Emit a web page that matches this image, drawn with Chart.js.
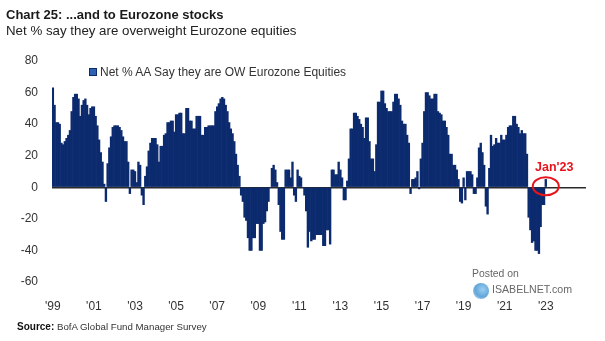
<!DOCTYPE html>
<html>
<head>
<meta charset="utf-8">
<script src="https://cdn.jsdelivr.net/npm/chart.js@4.4.0/dist/chart.umd.min.js"></script>
<style>
  html, body { margin: 0; padding: 0; background: #fff; }
  #wrap { position: relative; width: 605px; height: 341px; overflow: hidden;
          font-family: "Liberation Sans", Arial, sans-serif; color: #222; }
  #c { position: absolute; left: 0; top: 0; }
  .t { position: absolute; white-space: nowrap; line-height: 1; }
  #title { left: 6px; top: 8px; font-size: 13px; font-weight: bold; color: #1a1a1a; }
  #subtitle { left: 6px; top: 24px; font-size: 13.3px; color: #222; }
  #legend { left: 89px; top: 66px; font-size: 12px; color: #333; }
  #legend .box { position: absolute; left: 0; top: 2px; width: 6px; height: 6px;
                 background: #2f63b0; border: 1px solid #0c2a6c; }
  #legend span.lbl { margin-left: 11px; }
  #source { left: 17px; top: 322px; font-size: 9.7px; color: #333; }
  #source b { font-size: 10px; color: #111; }
  #posted { left: 472px; top: 269px; font-size: 10.4px; color: #666; }
  #isabel { left: 492px; top: 284px; font-size: 10.6px; color: #666; }
  #globe { position: absolute; left: 473px; top: 283px; width: 16px; height: 16px; border-radius: 50%;
           background: radial-gradient(circle at 60% 40%, #7fc4ef 0%, #3b8fd0 55%, rgba(200,215,230,0.6) 100%); opacity: 0.8; }
</style>
</head>
<body>
<div id="wrap">
  <canvas id="c" width="605" height="341"></canvas>
  <div class="t" id="title">Chart 25: ...and to Eurozone stocks</div>
  <div class="t" id="subtitle">Net % say they are overweight Eurozone equities</div>
  <div class="t" id="legend"><span class="box"></span><span class="lbl">Net % AA Say they are OW Eurozone Equities</span></div>
  <div class="t" id="source"><b>Source:</b> BofA Global Fund Manager Survey</div>
  <div id="globe"></div>
  <div class="t" id="posted">Posted on</div>
  <div class="t" id="isabel">ISABELNET.com</div>
</div>
<script>
// Monthly survey readings, Jan 1999 .. Jan 2023 (net % overweight Eurozone equities)
const netOW1999_2002 = [63, 52, 41, 41, 40, 28, 27, 29, 31, 33, 36, 48,
                        57, 59, 59, 56, 45, 52, 55, 56, 52, 46, 50, 51,
                        51, 45, 39, 30, 22, 16, 2, -9, 15, 25, 32, 38,
                        39, 39, 39, 38, 36, 32, 29, 29];
const netOW2002_2007 = [16, -4, 11, 11, 10, 3, 16, 14, -5, -11, 7, 13,
                        23, 28, 31, 31, 31, 27, 16, 26, 26, 33, 34, 41,
                        41, 42, 42, 35, 46, 46, 47, 47, 34, 34, 50, 50,
                        42, 42, 37, 37, 45, 45, 45, 33, 33, 38, 38, 39,
                        39, 39, 39, 48, 51, 53, 56, 57, 56];
const netOW2007_2011 = [52, 48, 41, 37, 34, 29, 21, 14, 7, -5, -9, -19,
                        -21, -32, -40, -40, -32, -32, -23, -23, -40, -40, -23, -22,
                        -15, -9, 0, 12, 14, 11, 3, -11, -28, -33, -33, 11,
                        11, 11, 6, 16, -5, -9, 11, 7, 6, 0, -5, -15,
                        -38, -28, -34];
const netOW2011_2016 = [-33, -33, -30, -30, -30, -30, -37, -37, -27, -27, -36, 11,
                        11, 8, 8, 16, 11, 6, -8, -8, 4, 18, 37, 37,
                        47, 47, 45, 43, 40, 38, 31, 44, 44, 29, 18, 18,
                        10, 27, 54, 54, 61, 61, 53, 50, 48, 48, 48, 54,
                        59, 59, 56, 52, 42, 40, 40, 33, 28, -4];
const netOW2016_2020 = [5, 5, 6, 10, -1, 18, 28, 48, 60, 60, 58, 56,
                        56, 59, 59, 48, 47, 46, 42, 42, 38, 33, 21, 21,
                        14, 14, 11, 5, -9, -10, 6, -8, 10, 10, 10, 8,
                        -4, -4, 6, 25, 28, 22, 14, -12, -17, 12, 33, 26,
                        27, 31, 28, 28, 33];
const netOW2020_2023 = [30, 30, 33, 38, 39, 39, 45, 45, 40, 38, 34, 36,
                        34, 34, 21, -19, -27, -35, -34, -40, -40, -42, -25, -11,
                        -11, 5];

// Axis tick labels (every other January)
const yearTicks = ["'99", "'01", "'03", "'05", "'07", "'09", "'11", "'13", "'15", "'17", "'19", "'21", "'23"];
const yTicks = [-60, -40, -20, 0, 20, 40, 60, 80];

const seriesName = 'Net % AA Say they are OW Eurozone Equities';
const NAVY = '#0c2a6e';
const RED = '#e8141c';
const FONT = '"Liberation Sans", Arial, sans-serif';

const netOW = [].concat(netOW1999_2002, netOW2002_2007, netOW2007_2011,
                        netOW2011_2016, netOW2016_2020, netOW2020_2023);
const lastIndex = netOW.length - 1;

// Month categories Jan 1999 .. Dec 2024 (axis runs past the last reading)
const monthNames = ['Jan','Feb','Mar','Apr','May','Jun','Jul','Aug','Sep','Oct','Nov','Dec'];
const months = [];
for (let yr = 1999; yr <= 2024; yr++) {
  for (let m = 0; m < 12; m++) months.push(monthNames[m] + ' ' + yr);
}
const values = months.map((_, i) => (i < netOW.length ? netOW[i] : null));

// Red ring + label around the latest reading
const latestMarker = {
  id: 'latestMarker',
  afterDatasetsDraw(chart) {
    const { ctx, scales: { x, y } } = chart;
    const cx = x.getPixelForValue(lastIndex);
    const cy = y.getPixelForValue(0);
    ctx.save();
    ctx.strokeStyle = RED;
    ctx.lineWidth = 2;
    ctx.beginPath();
    ctx.ellipse(cx, cy - 1, 13, 9, 0, 0, Math.PI * 2);
    ctx.stroke();
    ctx.fillStyle = RED;
    ctx.font = 'bold 12.5px ' + FONT;
    ctx.textAlign = 'center';
    ctx.textBaseline = 'alphabetic';
    ctx.fillText("Jan'23", cx + 8.5, cy - 16);
    ctx.restore();
  }
};

new Chart(document.getElementById('c'), {
  type: 'bar',
  data: {
    labels: months,
    datasets: [{
      label: seriesName,
      data: values,
      backgroundColor: NAVY,
      borderWidth: 0,
      barPercentage: 1,
      categoryPercentage: 1
    }]
  },
  options: {
    responsive: false,
    animation: false,
    devicePixelRatio: 1,
    layout: { padding: { left: 0, right: 19, top: 61, bottom: 0 } },
    plugins: { legend: { display: false }, tooltip: { enabled: false } },
    scales: {
      x: {
        grid: { display: false },
        border: { display: false },
        ticks: {
          autoSkip: false,
          maxRotation: 0,
          minRotation: 0,
          padding: 9,
          color: '#333',
          font: { family: FONT, size: 12 },
          callback: (v, i) => (i % 24 === 0 && i / 24 < yearTicks.length ? yearTicks[i / 24] : null)
        },
        afterFit: s => { s.height = 59; }
      },
      y: {
        min: yTicks[0],
        max: yTicks[yTicks.length - 1],
        z: 1,
        afterBuildTicks: s => { s.ticks = yTicks.map(v => ({ value: v })); },
        ticks: { padding: 14, color: '#333', font: { family: FONT, size: 12 } },
        grid: {
          drawTicks: false,
          color: c => (c.tick && c.tick.value === 0 ? '#2a2a2a' : 'rgba(0,0,0,0)'),
          lineWidth: 1.5
        },
        border: { display: false },
        afterFit: s => { s.width = 52; }
      }
    }
  },
  plugins: [latestMarker]
});
</script>
</body>
</html>
